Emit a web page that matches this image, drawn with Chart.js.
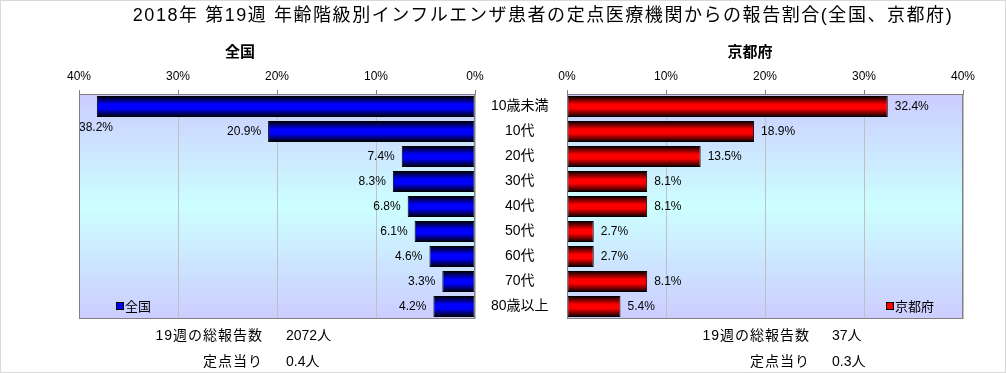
<!DOCTYPE html>
<html>
<head>
<meta charset="utf-8">
<script src="https://cdn.jsdelivr.net/npm/chart.js@4/dist/chart.umd.min.js"></script>
<style>
  body { margin: 0; background: #fff; font-family: "Liberation Sans", "Noto Sans CJK JP", sans-serif; }
  #page { position: relative; width: 1006px; height: 373px; overflow: hidden; }
  #frame { position: absolute; left: 0; top: 0; width: 1006px; height: 373px; box-sizing: border-box; border: 1px solid #d9d9d9; pointer-events: none; }
  .box { position: absolute; top: 0; height: 373px; }
  .txt { position: absolute; white-space: nowrap; color: #000; line-height: 1; }
  .r { text-align: right; }
  .sq { display: inline-block; width: 6px; height: 6px; border: 1px solid #000; margin-right: 1px; vertical-align: 1px; }
</style>
</head>
<body>
<div id="page">
  <div class="box" style="left:0;width:567px"><canvas id="left"></canvas></div>
  <div class="box" style="left:540px;width:466px"><canvas id="right"></canvas></div>

  <div class="txt" style="left:0;width:1086px;text-align:center;top:6px;font-size:18px;letter-spacing:1.55px">2018年 第19週 年齢階級別インフルエンザ患者の定点医療機関からの報告割合(全国、京都府)</div>
  <div class="txt" style="left:190px;width:100px;text-align:center;top:44px;font-size:15px;font-weight:bold">全国</div>
  <div class="txt" style="left:700px;width:100px;text-align:center;top:44px;font-size:15px;font-weight:bold">京都府</div>

  <div class="txt" style="left:116px;top:300px;font-size:13px"><span class="sq" style="background:#0000ff"></span>全国</div>
  <div class="txt" style="left:886px;top:300px;font-size:13px"><span class="sq" style="background:#ff0000"></span>京都府</div>

  <div class="txt r" style="left:63px;width:200px;top:328px;font-size:14px;letter-spacing:1px">19週の総報告数</div>
  <div class="txt" style="left:286px;top:328px;font-size:14px">2072人</div>
  <div class="txt r" style="left:63px;width:200px;top:354px;font-size:14px;letter-spacing:1px">定点当り</div>
  <div class="txt" style="left:286px;top:354px;font-size:14px">0.4人</div>

  <div class="txt r" style="left:610px;width:200px;top:328px;font-size:14px;letter-spacing:1px">19週の総報告数</div>
  <div class="txt" style="left:832px;top:328px;font-size:14px">37人</div>
  <div class="txt r" style="left:610px;width:200px;top:354px;font-size:14px;letter-spacing:1px">定点当り</div>
  <div class="txt" style="left:832px;top:354px;font-size:14px">0.3人</div>
  <div id="frame"></div>
</div>
<script>
'use strict'

const categories = ['10歳未満', '10代', '20代', '30代', '40代', '50代', '60代', '70代', '80歳以上']
const national = [38.2, 20.9, 7.4, 8.3, 6.8, 6.1, 4.6, 3.3, 4.2]
const kyoto = [32.4, 18.9, 13.5, 8.1, 8.1, 2.7, 2.7, 8.1, 5.4]
const tickValues = [0, 10, 20, 30, 40]

const FONT = '"Liberation Sans", "Noto Sans CJK JP", sans-serif'
const BAR_H = 21

// cylinder-ish shading for each bar
function barFill(color) {
  return (ctx) => {
    const chart = ctx.chart
    if (!chart.chartArea || !chart.scales.y) return color
    const y = chart.scales.y.getPixelForValue(ctx.dataIndex)
    const g = chart.ctx.createLinearGradient(0, y - BAR_H / 2, 0, y + BAR_H / 2)
    g.addColorStop(0, '#000000')
    g.addColorStop(0.4, color)
    g.addColorStop(0.6, color)
    g.addColorStop(1, '#000000')
    return g
  }
}

const plotBg = {
  id: 'plotBg',
  beforeDraw(chart) {
    const { ctx, chartArea: a } = chart
    const g = ctx.createLinearGradient(0, a.top, 0, a.bottom)
    g.addColorStop(0, '#ccccff')
    g.addColorStop(0.5, '#ccffff')
    g.addColorStop(1, '#ccccff')
    ctx.save()
    ctx.fillStyle = g
    ctx.fillRect(a.left, a.top, a.right - a.left, a.bottom - a.top)
    ctx.restore()
  },
  afterDraw(chart) {
    const { ctx, chartArea: a } = chart
    ctx.save()
    ctx.strokeStyle = '#808080'
    ctx.lineWidth = 1
    ctx.strokeRect(a.left + 0.5, a.top + 0.5, a.right - a.left - 1, a.bottom - a.top - 1)
    ctx.restore()
  },
}

const valueLabels = {
  id: 'valueLabels',
  afterDatasetsDraw(chart, args, opts) {
    const { ctx, chartArea: a } = chart
    const meta = chart.getDatasetMeta(0)
    ctx.save()
    ctx.font = '12px ' + FONT
    ctx.fillStyle = '#000'
    ctx.textBaseline = 'middle'
    meta.data.forEach((bar, i) => {
      const text = chart.data.datasets[0].data[i].toFixed(1) + '%'
      const w = ctx.measureText(text).width
      if (opts.side === 'left') {
        if (bar.x - 7 - w < a.left) {
          ctx.textAlign = 'left'
          ctx.fillText(text, a.left, bar.y + 21)
        } else {
          ctx.textAlign = 'right'
          ctx.fillText(text, bar.x - 7, bar.y)
        }
      } else {
        ctx.textAlign = 'left'
        ctx.fillText(text, bar.x + 7, bar.y)
      }
    })
    ctx.restore()
  },
}

function makeChart(id, values, color, side) {
  const isLeft = side === 'left'
  return new Chart(document.getElementById(id), {
    type: 'bar',
    data: {
      labels: categories,
      datasets: [{
        data: values,
        backgroundColor: barFill(color),
        borderColor: '#000',
        borderWidth: 1,
        borderSkipped: false,
        barPercentage: BAR_H / 25,
        categoryPercentage: 1,
      }],
    },
    options: {
      indexAxis: 'y',
      responsive: true,
      maintainAspectRatio: false,
      animation: false,
      layout: { padding: isLeft ? { left: 79, right: 0, top: 0, bottom: 54 } : { left: 27, right: 43, top: 0, bottom: 54 } },
      plugins: { legend: { display: false }, tooltip: { enabled: false }, valueLabels: { side } },
      scales: {
        x: {
          position: 'top',
          reverse: isLeft,
          min: 0,
          max: 40,
          afterFit: (s) => { s.height = 94 },
          afterBuildTicks: (s) => { s.ticks = tickValues.map((v) => ({ value: v })) },
          ticks: { padding: 6, color: '#000', font: { size: 12, family: FONT }, callback: (v) => v + '%', maxRotation: 0 },
          grid: { color: '#c0c0c0', tickLength: 4, tickColor: '#808080' },
          border: { color: '#808080' },
        },
        y: {
          display: isLeft,
          position: 'right',
          afterFit: (s) => { s.width = isLeft ? 92 : 0 },
          ticks: { crossAlign: 'center', padding: 16, color: '#000', font: { size: 14, family: FONT } },
          grid: { display: false, drawTicks: false },
          border: { display: false },
        },
      },
    },
    plugins: [plotBg, valueLabels],
  })
}

makeChart('left', national, '#0000ff', 'left')
makeChart('right', kyoto, '#ff0000', 'right')
</script>
</body>
</html>
